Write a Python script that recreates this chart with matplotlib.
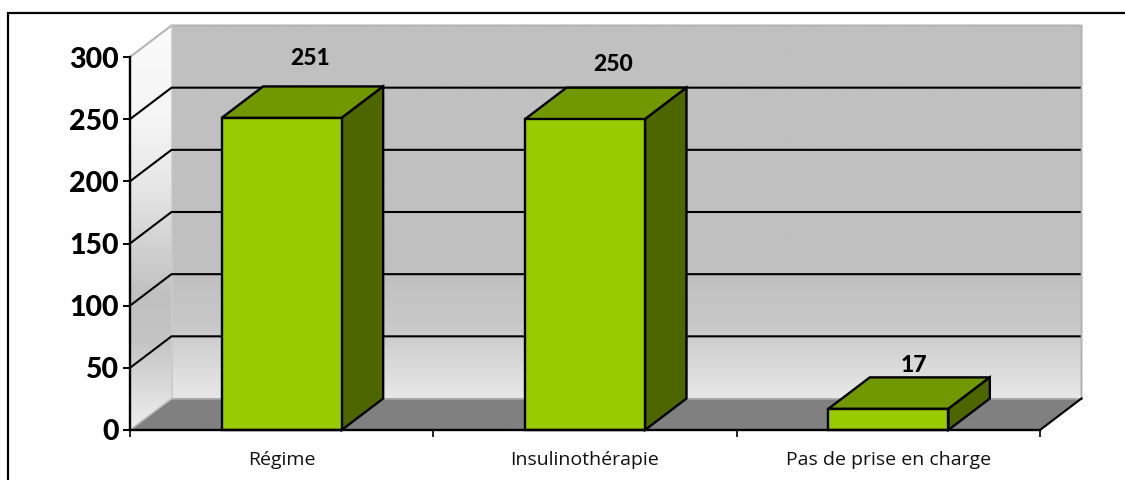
import numpy as np
import matplotlib
matplotlib.use("Agg")
import matplotlib.pyplot as plt
from matplotlib.patches import Polygon
from matplotlib.lines import Line2D
from matplotlib.colors import LinearSegmentedColormap

categories = ["Régime", "Insulinothérapie", "Pas de prise en charge"]
values = [251, 250, 17]
y_ticks = [0, 50, 100, 150, 200, 250, 300]

# layout (pixels)
W, H = 1125, 480
L, R, B, T = 130, 1040, 430, 57
DX_PX, DY_PX = 41.5, 31.5
BAR_PX = 120

plt.rcParams["font.family"] = ["Lato", "DejaVu Sans"]
fig = plt.figure(figsize=(W / 100, H / 100), dpi=100)
ax = fig.add_axes([L / W, 1 - B / H, (R - L) / W, (B - T) / H])
ax.set_xlim(0, len(categories))
ax.set_ylim(0, 300)
ax.patch.set_visible(False)

n = len(categories)
dx = DX_PX / (R - L) * n
dy = DY_PX / (B - T) * 300
bw = BAR_PX / (R - L) * n


def gradient(verts, stops, zorder):
    """Vertical grey gradient clipped to a polygon."""
    cmap = LinearSegmentedColormap.from_list("g", stops)
    ys = np.array([v[1] for v in verts])
    xs = np.array([v[0] for v in verts])
    img = np.linspace(1, 0, 256).reshape(-1, 1)
    im = ax.imshow(img, extent=(xs.min(), xs.max(), ys.min(), ys.max()), aspect="auto",
                   cmap=cmap, vmin=0, vmax=1, zorder=zorder, interpolation="bilinear")
    clip = Polygon(verts, closed=True, transform=ax.transData, fill=False, edgecolor="none", clip_on=False)
    ax.add_patch(clip)
    im.set_clip_box(fig.bbox)
    im.set_clip_path(clip)
    ax.set_xlim(0, n)
    ax.set_ylim(0, 300)


# back wall
gradient([(dx, dy), (n + dx, dy), (n + dx, 300 + dy), (dx, 300 + dy)],
         [(0, "#e8e8e8"), (0.2, "#c8c8c8"), (0.33, "#c0c0c0"), (1, "#c0c0c0")], 1)
# left wall
gradient([(0, 0), (dx, dy), (dx, 300 + dy), (0, 300)],
         [(0, "#efefef"), (0.22, "#c4c4c4"), (0.33, "#c0c0c0"), (0.6, "#e6e6e6"), (0.78, "#f6f6f6"), (1, "#fafafa")], 1)
# floor
ax.add_patch(Polygon([(0, 0), (n, 0), (n + dx, dy), (dx, dy)], facecolor="#808080",
                     edgecolor="none", zorder=1.2, clip_on=False))

# wall edges
grey = "#b4b4b4"
ax.plot([0, dx, n + dx, n + dx], [300, 300 + dy, 300 + dy, dy], color=grey, lw=1.5, zorder=1.3, clip_on=False)
ax.plot([dx, dx], [dy, 300 + dy], color="#c8c8c8", lw=1.2, zorder=1.3, clip_on=False)
ax.plot([dx, n + dx], [dy, dy], color="#a8a8a8", lw=1.2, zorder=1.3, clip_on=False)
ax.plot([0, dx], [0, dy], color="#c0c0c0", lw=1.2, zorder=1.3, clip_on=False)
ax.plot([n, n + dx], [0, dy], color="black", lw=1.5, zorder=1.4, clip_on=False)

# gridlines
for t in y_ticks[1:-1]:
    ax.plot([0, dx, n + dx - 0.006], [t, t + dy, t + dy], color="black", lw=1.5, zorder=1.5, clip_on=False)

# bars
edge = dict(edgecolor="black", linewidth=1.7, joinstyle="miter", clip_on=False)
for i, v in enumerate(values):
    x0 = i + 0.5 - bw / 2
    x1 = x0 + bw
    ax.add_patch(Polygon([(x0, v), (x1, v), (x1 + dx, v + dy), (x0 + dx, v + dy)],
                         facecolor="#729800", zorder=3, **edge))
    ax.add_patch(Polygon([(x1, 0), (x1 + dx, dy), (x1 + dx, v + dy), (x1, v)],
                         facecolor="#4d6600", zorder=3, **edge))
    ax.add_patch(Polygon([(x0, 0), (x1, 0), (x1, v), (x0, v)],
                         facecolor="#99cc00", zorder=4, **edge))

# data labels
label_offsets = [(28, 59), (28, 55), (26, 43)]
for i, v in enumerate(values):
    ax.annotate(str(v), xy=(i + 0.5, v), xytext=label_offsets[i], textcoords="offset pixels",
                ha="center", va="center", fontsize=16.5, fontweight=900, color="black", zorder=6,
                annotation_clip=False)

# axes
for s in ["top", "right"]:
    ax.spines[s].set_visible(False)
for s in ["left", "bottom"]:
    ax.spines[s].set_linewidth(1.7)
    ax.spines[s].set_zorder(5)
ax.set_yticks(y_ticks)
ax.set_yticklabels([str(t) for t in y_ticks], fontsize=20.5, fontweight=900)
ax.set_xticks(range(n + 1))
ax.set_xticks([i + 0.5 for i in range(n)], minor=True)
ax.set_xticklabels([""] * (n + 1))
ax.set_xticklabels(categories, minor=True, fontsize=14, color="#111111", family="Open Sans")
ax.tick_params(axis="y", length=5, width=1.4, pad=3)
ax.tick_params(axis="x", which="major", length=5, width=1.2)
ax.tick_params(axis="x", which="minor", length=0, pad=15)

# outer frame: top and left only
fig.add_artist(Line2D([8 / W, 8 / W, 1], [0, 1 - 13 / H, 1 - 13 / H], color="black", lw=1.6,
                      transform=fig.transFigure, solid_joinstyle="miter"))

fig.savefig("out.png", dpi=100, facecolor="white")
